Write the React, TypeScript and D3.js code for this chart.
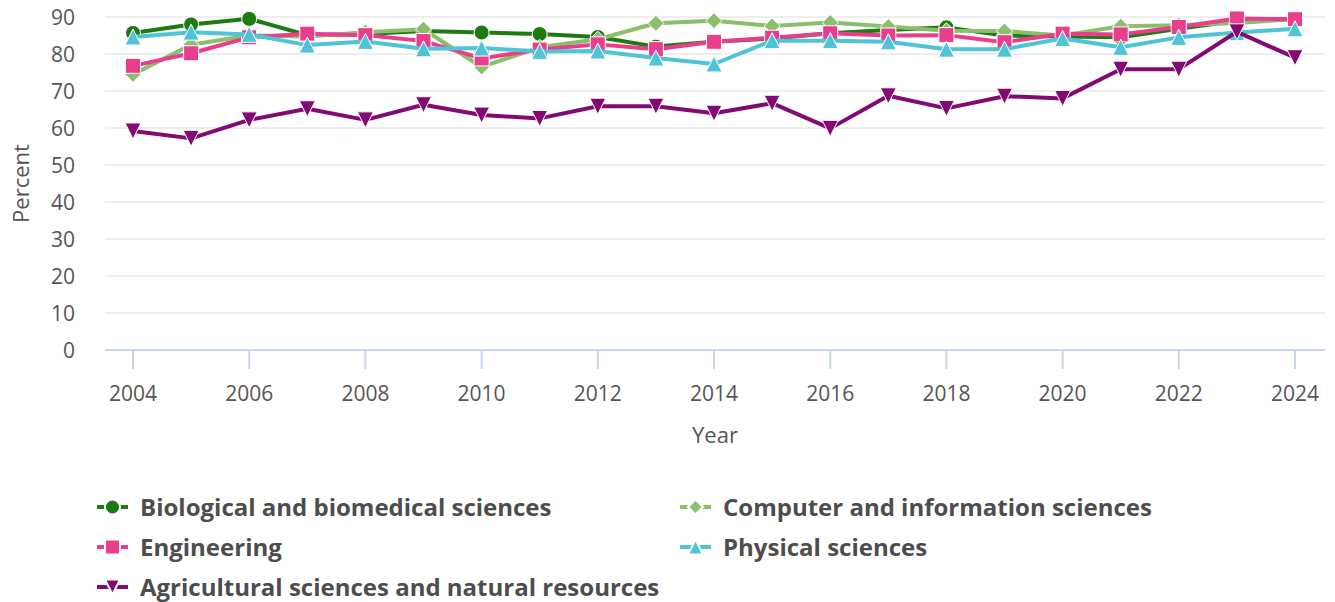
import React from "react";
import * as d3 from "d3";

const years = [2004, 2005, 2006, 2007, 2008, 2009, 2010, 2011, 2012, 2013, 2014, 2015, 2016, 2017, 2018, 2019, 2020, 2021, 2022, 2023, 2024];

const bio = [85.7, 88.0, 89.5, 85.1, 85.4, 86.2, 85.8, 85.4, 84.6, 82.0, 83.3, 84.2, 85.6, 86.5, 87.2, 85.0, 84.7, 84.5, 86.8, 89.0, 89.5];
const comp = [74.5, 82.5, 85.0, 84.7, 85.9, 86.7, 76.5, 81.8, 84.0, 88.3, 89.0, 87.6, 88.5, 87.4, 86.3, 86.2, 85.0, 87.5, 87.8, 88.4, 89.4];
const eng = [76.8, 80.2, 84.5, 85.5, 85.1, 83.5, 78.8, 81.2, 82.6, 81.3, 83.3, 84.4, 85.6, 85.0, 85.1, 83.2, 85.5, 85.3, 87.3, 89.6, 89.4];
const phys = [84.6, 85.9, 85.3, 82.4, 83.4, 81.4, 81.6, 80.7, 80.8, 78.9, 77.3, 83.6, 83.6, 83.3, 81.3, 81.3, 84.2, 81.8, 84.5, 85.8, 86.8];
const agri = [59.2, 57.2, 62.2, 65.2, 62.2, 66.3, 63.5, 62.6, 65.9, 65.9, 64.0, 66.7, 59.9, 68.7, 65.3, 68.6, 68.0, 75.9, 75.9, 86.0, 79.0];

const seriesNames = [
  "Biological and biomedical sciences",
  "Computer and information sciences",
  "Engineering",
  "Physical sciences",
  "Agricultural sciences and natural resources",
];
const seriesColors = ["#1f7a14", "#8cbf6b", "#e83e8c", "#4fc4d6", "#840a73"];
const seriesSymbols = ["circle", "diamond", "square", "triangle", "triangle-down"];
const seriesValues = [bio, comp, eng, phys, agri];

const yTicks = [0, 10, 20, 30, 40, 50, 60, 70, 80, 90];
const xTicks = [2004, 2006, 2008, 2010, 2012, 2014, 2016, 2018, 2020, 2022, 2024];

const W = 1335;
const H = 602;
const FONT = "'Open Sans', sans-serif";

function markerPath(sym: string, cx: number, cy: number, r: number): string {
  switch (sym) {
    case "circle":
      return `M${cx - r},${cy} a${r},${r} 0 1,0 ${2 * r},0 a${r},${r} 0 1,0 ${-2 * r},0 Z`;
    case "square":
      return `M${cx - r},${cy - r} h${2 * r} v${2 * r} h${-2 * r} Z`;
    case "diamond":
      return `M${cx},${cy - r} L${cx + r},${cy} L${cx},${cy + r} L${cx - r},${cy} Z`;
    case "triangle":
      return `M${cx},${cy - r} L${cx + r},${cy + r} L${cx - r},${cy + r} Z`;
    case "triangle-down":
      return `M${cx - r},${cy - r} L${cx + r},${cy - r} L${cx},${cy + r} Z`;
  }
  return "";
}

export default function App() {
  const x = d3.scaleLinear().domain([2004, 2024]).range([133, 1295]);
  const y = d3.scaleLinear().domain([0, 90]).range([350, 17]);
  const plotLeft = 105;
  const plotRight = 1325;

  const line = d3
    .line<number>()
    .x((_, i) => x(years[i]))
    .y((d) => y(d));

  const legendPos = [
    { x: 97, y: 507 },
    { x: 680, y: 507 },
    { x: 97, y: 547 },
    { x: 680, y: 547 },
    { x: 97, y: 587 },
  ];

  const markerR = (sym: string) => (sym === "square" ? 7.5 : sym === "circle" ? 7.5 : 8);

  return (
    <div style={{ position: "fixed", left: 0, top: 0 }}>
      <svg width={W} height={H} style={{ display: "block", background: "#fff" }} fontFamily={FONT}>
        {yTicks.filter((t) => t > 0).map((t) => (
          <line key={t} x1={plotLeft} x2={plotRight} y1={y(t)} y2={y(t)} stroke="#e8e8e8" strokeWidth={1.5} />
        ))}
        {yTicks.map((t) => (
          <text key={t} x={75} y={y(t)} dy="0.36em" textAnchor="end" fontSize={21} fill="#555">
            {t}
          </text>
        ))}
        <line x1={plotLeft} x2={plotRight} y1={350} y2={350} stroke="#ccd6eb" strokeWidth={2} />
        {xTicks.map((t) => (
          <g key={t}>
            <line x1={x(t)} x2={x(t)} y1={350} y2={369} stroke="#ccd6eb" strokeWidth={2} />
            <text x={x(t)} y={393} dy="0.36em" textAnchor="middle" fontSize={21} fill="#555">
              {t}
            </text>
          </g>
        ))}
        <text x={(plotLeft + plotRight) / 2} y={435} dy="0.36em" textAnchor="middle" fontSize={22} fill="#555">
          Year
        </text>
        <text
          transform={`translate(21,${(17 + 350) / 2}) rotate(-90)`}
          dy="0.36em"
          textAnchor="middle"
          fontSize={22}
          fill="#555"
        >
          Percent
        </text>

        {seriesValues.map((vals, si) => (
          <g key={si}>
            <path d={line(vals) || ""} fill="none" stroke={seriesColors[si]} strokeWidth={4} strokeLinejoin="round" strokeLinecap="round" />
            {vals.map((v, i) => (
              <path
                key={i}
                d={markerPath(seriesSymbols[si], x(years[i]), y(v), markerR(seriesSymbols[si]))}
                fill={seriesColors[si]}
                stroke="#fff"
                strokeWidth={1}
              />
            ))}
          </g>
        ))}

        {seriesNames.map((name, si) => {
          const p = legendPos[si];
          const cx = p.x + 15.5;
          return (
            <g key={name}>
              <line x1={p.x} x2={p.x + 31} y1={p.y} y2={p.y} stroke={seriesColors[si]} strokeWidth={4} />
              <path d={markerPath(seriesSymbols[si], cx, p.y, 7.5)} fill={seriesColors[si]} stroke="#fff" strokeWidth={2} />
              <text x={p.x + 43} y={p.y} dy="0.36em" fontSize={24} fontWeight={700} fill="#4d4d4d">
                {name}
              </text>
            </g>
          );
        })}
      </svg>
    </div>
  );
}
